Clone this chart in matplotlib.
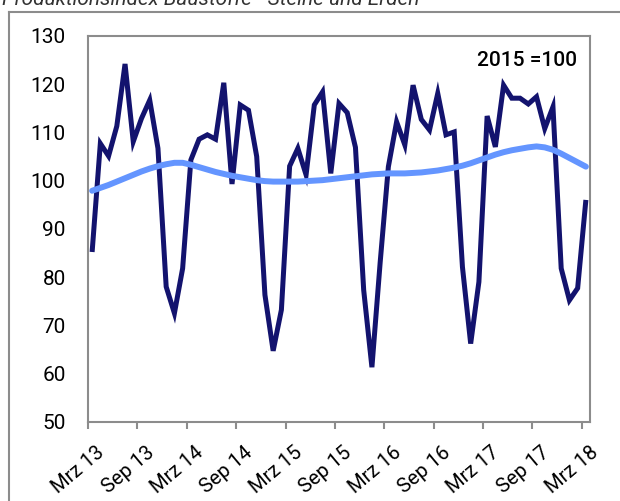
import matplotlib.pyplot as plt
from matplotlib.lines import Line2D
from matplotlib import transforms

plt.rcParams["font.family"] = ["Roboto", "DejaVu Sans"]

# monthly index, Mrz 13 .. Mrz 18
index_values = [
    85.2, 107.7, 105.1, 111.3, 124.2, 108.1, 112.9, 116.7, 106.7, 78.0, 72.5, 81.8,
    104.3, 108.6, 109.5, 108.6, 120.3, 99.3, 115.7, 114.6, 105.0, 76.3, 64.7, 73.2,
    103.0, 106.7, 101.2, 115.7, 118.4, 101.5, 116.0, 114.1, 106.9, 77.3, 61.3, 83.0,
    102.9, 112.2, 107.4, 119.8, 112.7, 110.5, 118.1, 109.5, 110.1, 82.1, 66.2, 79.0,
    113.4, 107.0, 119.8, 117.1, 117.1, 115.9, 117.4, 110.8, 115.3, 81.8, 75.2, 77.7,
    96.0,
]
trend_values = [
    97.9, 98.5, 99.1, 99.8, 100.5, 101.2, 101.9, 102.5, 103.0, 103.4, 103.7, 103.7,
    103.3, 102.8, 102.3, 101.8, 101.4, 101.0, 100.7, 100.4, 100.1, 99.9, 99.8, 99.8,
    99.8, 99.8, 99.9, 100.0, 100.1, 100.3, 100.5, 100.7, 100.9, 101.1, 101.3, 101.4,
    101.5, 101.5, 101.5, 101.6, 101.7, 101.9, 102.1, 102.4, 102.7, 103.1, 103.6, 104.2,
    104.8, 105.4, 105.9, 106.3, 106.6, 106.9, 107.1, 106.9, 106.4, 105.6, 104.7, 103.8,
    102.9,
]
tick_labels = ["Mrz 13", "Sep 13", "Mrz 14", "Sep 14", "Mrz 15", "Sep 15",
               "Mrz 16", "Sep 16", "Mrz 17", "Sep 17", "Mrz 18"]
y_ticks = [50, 60, 70, 80, 90, 100, 110, 120, 130]

grey = "#8c8c8c"

fig = plt.figure(figsize=(6.2, 5.01), dpi=100)
ax = fig.add_axes([88 / 620, 1 - 421.7 / 501, 502 / 620, 385.7 / 501])

x = [i + 0.5 for i in range(len(index_values))]
ax.plot(x, index_values, color="#13136e", lw=3.6, solid_joinstyle="miter",
        solid_capstyle="butt")
ax.plot(x, trend_values, color="#6495ff", lw=4.3, solid_capstyle="round")

ax.set_xlim(0, 61)
ax.set_ylim(50, 130)
ax.set_yticks(y_ticks)
ax.set_xticks(range(0, 61, 6))
ax.set_xticklabels(tick_labels, rotation=40, ha="right", va="top",
                   rotation_mode="anchor")
ax.tick_params(axis="y", length=0, pad=16, labelsize=15)
ax.tick_params(axis="x", length=5, width=1.5, color=grey, pad=10, labelsize=14.5)
shift = transforms.ScaledTranslation(8 / 100, 0, fig.dpi_scale_trans)
for lbl in ax.get_xticklabels():
    lbl.set_transform(lbl.get_transform() + shift)
for s in ax.spines.values():
    s.set_color(grey)
    s.set_linewidth(1.5)

fig.text(577 / 620, 1 - 60 / 501, "2015 =100", ha="right", va="center",
         fontsize=15, fontweight="medium")

# outer frame and cut-off heading
fig.add_artist(Line2D([9 / 620, 9 / 620], [0, 1 - 12 / 501], color=grey, lw=1.5))
fig.add_artist(Line2D([9 / 620, 1], [1 - 12 / 501, 1 - 12 / 501], color=grey, lw=1.5))
fig.text(2 / 620, 1 - 5 / 501, "Produktionsindex Baustoffe - Steine und Erden",
         ha="left", va="baseline", fontsize=15, style="italic", color="#333333")

fig.savefig("out.png", dpi=100)
